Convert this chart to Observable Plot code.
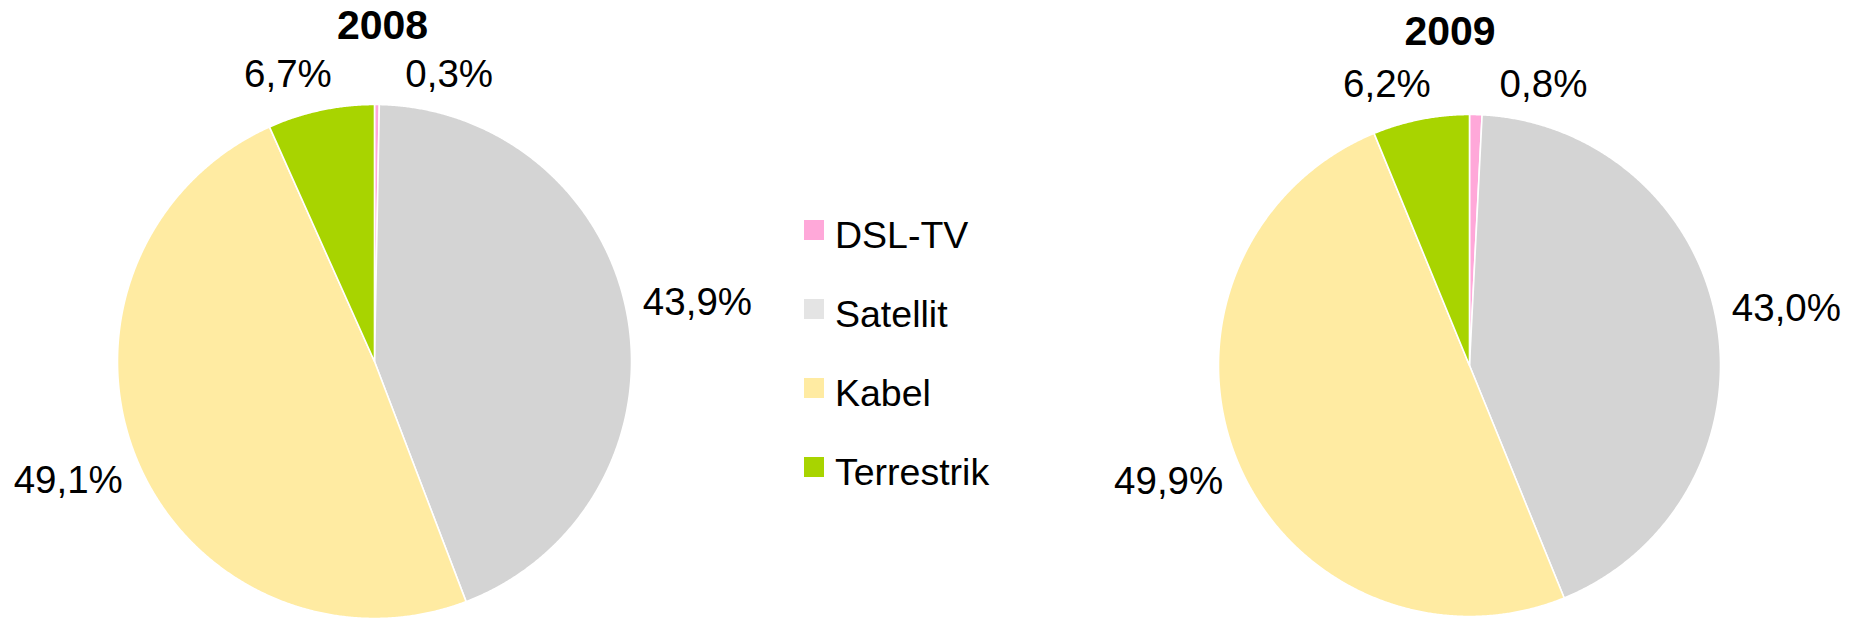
<!DOCTYPE html>
<html><head><meta charset="utf-8">
<script src="https://cdn.jsdelivr.net/npm/d3@7"></script>
<script src="https://cdn.jsdelivr.net/npm/@observablehq/plot@0.6"></script>
<style>
html,body{margin:0;padding:0;background:#fff;}
#root{position:relative;width:1849px;height:619px;overflow:hidden;font-family:"Liberation Sans",Arial,sans-serif;}
.chart{position:absolute;top:0;}
.title{position:absolute;width:200px;text-align:center;font-weight:bold;font-size:41px;line-height:46px;color:#000;}
.legend{position:absolute;left:804px;top:0;}
.row{position:absolute;left:0;height:40px;white-space:nowrap;}
.sw{position:absolute;left:0;top:5px;width:20px;height:20px;}
.lab{position:absolute;left:31px;top:0;font-size:37.5px;line-height:40px;color:#000;}
</style></head><body><div id="root"></div>
<script>
// ---- data ----
const categories = ["DSL-TV", "Satellit", "Kabel", "Terrestrik"];
const years = ["2008", "2009"];
const shares2008 = [0.3, 43.9, 49.1, 6.7];
const shares2009 = [0.8, 43.0, 49.9, 6.2];
const sliceColors = ["#FFA8D9", "#D4D4D4", "#FFEBA2", "#A8D400"];
const swatchColors = ["#FFA8D9", "#E4E4E4", "#FFEBA2", "#A8D400"];

// ---- layout (pixels) ----
const H = 619;
const layout = [
  {left: 0, width: 800, cx: 374, cy: 361, r: 257, titleX: 382.5, titleBaseline: 39},
  {left: 1080, width: 769, cx: 1469, cy: 365, r: 251, titleX: 1450, titleBaseline: 45}
];
const root = document.getElementById("root");
const fmt = v => v.toFixed(1).replace(".", ",") + "%";

function buildPie(values, year, L) {
  const arcs = d3.pie().sort(null).value(d => d)(values);
  const pts = [];
  const labels = [];
  arcs.forEach((a, i) => {
    const cat = categories[i];
    pts.push({cat, x: 0, y: 0});
    const n = Math.max(2, Math.ceil((a.endAngle - a.startAngle) / 0.005));
    for (let k = 0; k <= n; ++k) {
      const t = a.startAngle + (a.endAngle - a.startAngle) * k / n;
      pts.push({cat, x: Math.sin(t), y: Math.cos(t)});
    }
    pts.push({cat, x: 0, y: 0});
    const m = (a.startAngle + a.endAngle) / 2;
    const s = Math.sin(m), c = Math.cos(m), R = 1.06;
    let lab;
    if (Math.abs(c) > 0.95) {
      const sg = s >= 0 ? 1 : -1;
      lab = {text: fmt(values[i]), x: sg * Math.max(Math.abs(s) * R * 0.75, 0.12), y: 1.07,
             ta: sg > 0 ? "start" : "end", la: "bottom"};
    } else {
      lab = {text: fmt(values[i]), x: s * R, y: c * R,
             ta: s > 0 ? "start" : "end", la: c > 0 ? "bottom" : "top"};
    }
    labels.push(lab);
  });
  const lcx = L.cx - L.left;
  const textMarks = [];
  for (const ta of ["start", "end"]) for (const la of ["top", "bottom"]) {
    const sub = labels.filter(d => d.ta === ta && d.la === la);
    if (sub.length) textMarks.push(Plot.text(sub, {x: "x", y: "y", text: "text", textAnchor: ta, lineAnchor: la, fontSize: 38.5, fill: "black"}));
  }
  const svg = Plot.plot({
    width: L.width, height: H, margin: 0,
    style: {fontFamily: "Liberation Sans, Arial, sans-serif", background: "transparent", overflow: "visible"},
    x: {domain: [-lcx / L.r, (L.width - lcx) / L.r], axis: null},
    y: {domain: [-(H - L.cy) / L.r, L.cy / L.r], axis: null},
    color: {domain: categories, range: sliceColors},
    marks: [
      Plot.line(pts, {x: "x", y: "y", z: "cat", fill: "cat", stroke: "white", strokeWidth: 1.6, curve: "linear"}),
      ...textMarks
    ]
  });
  const div = document.createElement("div");
  div.className = "chart";
  div.style.left = L.left + "px";
  div.style.width = L.width + "px";
  div.appendChild(svg);
  root.appendChild(div);
  const t = document.createElement("div");
  t.className = "title";
  t.textContent = year;
  t.style.left = (L.titleX - 100) + "px";
  t.style.top = (L.titleBaseline - 37.2) + "px";
  root.appendChild(t);
}

buildPie(shares2008, years[0], layout[0]);
buildPie(shares2009, years[1], layout[1]);

// legend
const leg = document.createElement("div");
leg.className = "legend";
categories.forEach((c, i) => {
  const row = document.createElement("div");
  row.className = "row";
  row.style.top = (215 + i * 79) + "px";
  const sw = document.createElement("div");
  sw.className = "sw";
  sw.style.background = swatchColors[i];
  const lab = document.createElement("div");
  lab.className = "lab";
  lab.textContent = c;
  row.appendChild(sw);
  row.appendChild(lab);
  leg.appendChild(row);
});
root.appendChild(leg);
</script></body></html>
